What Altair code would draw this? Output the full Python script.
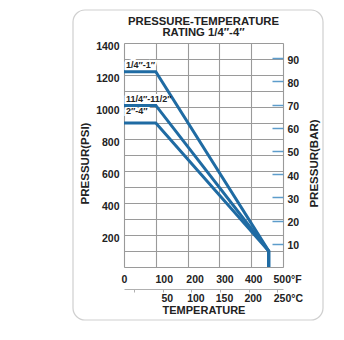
import altair as alt
import pandas as pd

# ---- data ----
series_names = ["1/4″-1″", "11/4″-11/2″", "2″-4″"]
temp_points_F = [0, 100, 455, 455]
psi_quarter_to_1 = [1220, 1220, 100, 0]
psi_114_to_112 = [1010, 1010, 100, 0]
psi_2_to_4 = [900, 900, 100, 0]
psi_grid = list(range(0, 1401, 100))
temp_ticks_F = [0, 100, 200, 300, 400, 500]
temp_ticks_C = [0, 50, 100, 150, 200, 250]
bar_ticks = [10, 20, 30, 40, 50, 60, 70, 80, 90]

PSI_PER_BAR = 14.5038
F_MIN, F_MAX = 0, 500
P_MAX = 1400

BLUE = "#1f6ba3"
GRID = "#9a9a9a"
TXT = "#222222"
FONT = "Liberation Sans"

rows = []
for name, vals in zip(series_names, [psi_quarter_to_1, psi_114_to_112, psi_2_to_4]):
    for i, (t, p) in enumerate(zip(temp_points_F, vals)):
        rows.append({"series": name, "i": i, "t": t, "p": p})
lines_df = pd.DataFrame(rows)

x_enc = alt.X(
    "t:Q",
    scale=alt.Scale(domain=[F_MIN, F_MAX], nice=False, zero=False),
    axis=alt.Axis(
        values=temp_ticks_F, grid=True, gridColor=GRID, gridWidth=1.1,
        domain=False, ticks=False, tickSize=0, labelPadding=7,
        labelExpr="datum.value == 500 ? '500°F' : datum.label",
        labelAlign={"condition": {"test": "datum.value == 500", "value": "left"}, "value": "center"},
        labelOffset={"condition": [
            {"test": "datum.value == 500", "value": -10},
            {"test": "datum.value == 100", "value": 8},
            {"test": "datum.value == 200", "value": 7},
            {"test": "datum.value == 300", "value": 5},
            {"test": "datum.value == 400", "value": 2}], "value": 0},
        labelFont=FONT, labelFontSize=10.5, labelFontWeight="bold", labelColor=TXT,
        title=None,
    ),
)
y_enc = alt.Y(
    "p:Q",
    scale=alt.Scale(domain=[0, P_MAX], nice=False),
    axis=alt.Axis(
        values=psi_grid, grid=True, gridColor=GRID, gridWidth=1.1,
        domain=False, ticks=False, tickSize=0, labelPadding=5, labelOffset=3.5,
        labelExpr="(datum.value % 200 == 0 && datum.value > 0) ? format(datum.value, 'd') : ''",
        labelFont=FONT, labelFontSize=10.5, labelFontWeight="bold", labelColor=TXT,
        title="PRESSUR(PSI)", titleFont=FONT, titleFontSize=11.5, titleFontWeight="bold",
        titleColor=TXT, titleX=-39, titleY=120, titleBaseline="middle", titleAngle=270,
    ),
)

line_layer = alt.Chart(lines_df).mark_line(
    color=BLUE, strokeWidth=3, strokeJoin="miter", strokeCap="butt"
).encode(x=x_enc, y=y_enc, detail="series:N", order="i:Q")

halo_layers, text_layers = [], []
label_dy = [-6.5, -6.5, -12.5]
for name, vals, dy in zip(series_names, [psi_quarter_to_1, psi_114_to_112, psi_2_to_4], label_dy):
    df = pd.DataFrame({"t": [temp_points_F[0]], "p": [vals[0]], "label": [name]})
    halo = alt.Chart(df).mark_text(
        align="left", baseline="middle", dx=2, dy=dy, font=FONT, fontSize=9,
        fontWeight="bold", stroke="white", strokeWidth=4, fill="white"
    ).encode(x=x_enc, y=y_enc, text="label:N")
    txt = alt.Chart(df).mark_text(
        align="left", baseline="middle", dx=2, dy=dy, font=FONT, fontSize=9,
        fontWeight="bold", color=TXT
    ).encode(x=x_enc, y=y_enc, text="label:N")
    halo_layers.append(halo)
    text_layers.append(txt)

main = alt.layer(*halo_layers, line_layer, *text_layers)

# Celsius secondary axis
c_df = pd.DataFrame({"c": temp_ticks_C})
c_layer = alt.Chart(c_df).mark_rule(opacity=0).encode(
    x=alt.X(
        "c:Q",
        scale=alt.Scale(domain=[(F_MIN - 32) / 1.8, (F_MAX - 32) / 1.8], nice=False, zero=False),
        axis=alt.Axis(
            orient="bottom", offset=22, values=temp_ticks_C, grid=False,
            domain=True, domainColor="#b0b0b0", domainWidth=1,
            ticks=True, tickSize=3, tickColor="#b0b0b0",
            labelPadding=1,
            labelExpr="datum.value == 0 ? '' : (datum.value == 250 ? '250°C' : datum.label)",
            labelAlign={"condition": {"test": "datum.value == 250", "value": "left"}, "value": "center"},
            labelOffset={"condition": {"test": "datum.value == 250", "value": -4}, "value": 4},
            labelFont=FONT, labelFontSize=10.5, labelFontWeight="bold", labelColor=TXT,
            title="TEMPERATURE", titleFont=FONT, titleFontSize=11, titleFontWeight="bold",
            titleColor=TXT, titlePadding=1,
        ),
    )
)

# Bar secondary axis
b_df = pd.DataFrame({"b": bar_ticks})
b_layer = alt.Chart(b_df).mark_rule(opacity=0).encode(
    y=alt.Y(
        "b:Q",
        scale=alt.Scale(domain=[0, P_MAX / PSI_PER_BAR], nice=False),
        axis=alt.Axis(
            orient="right", offset=-11, values=bar_ticks, grid=False, domain=False,
            ticks=True, tickSize=11, tickColor="#5d9ccb", tickWidth=1.5,
            labelPadding=4, labelOffset=2,
            labelFont=FONT, labelFontSize=10.5, labelFontWeight="bold", labelColor=TXT,
            title="PRESSUR(BAR)", titleFont=FONT, titleFontSize=11.5, titleFontWeight="bold",
            titleColor=TXT, titleX=42, titleY=120, titleBaseline="middle", titleAngle=270,
        ),
    )
)

frame = alt.Chart(alt.Data(values=[{}])).mark_rect(
    fill="white", fillOpacity=0, stroke="#cfcfcf", strokeWidth=1.2, cornerRadius=12
).encode(x=alt.value(-51), x2=alt.value(199), y=alt.value(-33), y2=alt.value(277))

chart = alt.layer(frame, main, c_layer, b_layer).resolve_scale(
    x="independent", y="independent"
).properties(
    width=159, height=224,
    autosize="none",
    padding={"left": 124, "top": 43, "right": 61, "bottom": 73},
    title=alt.TitleParams(
        text=["PRESSURE-TEMPERATURE", "RATING 1/4″-4″"],
        font=FONT, fontSize=11.3, fontWeight="bold", color=TXT,
        anchor="middle", offset=5, lineHeight=11, dy=34,
    ),
).configure_view(stroke=None).configure(background="white")

chart.save("out.html", embed_options={"renderer": "svg", "actions": False})
